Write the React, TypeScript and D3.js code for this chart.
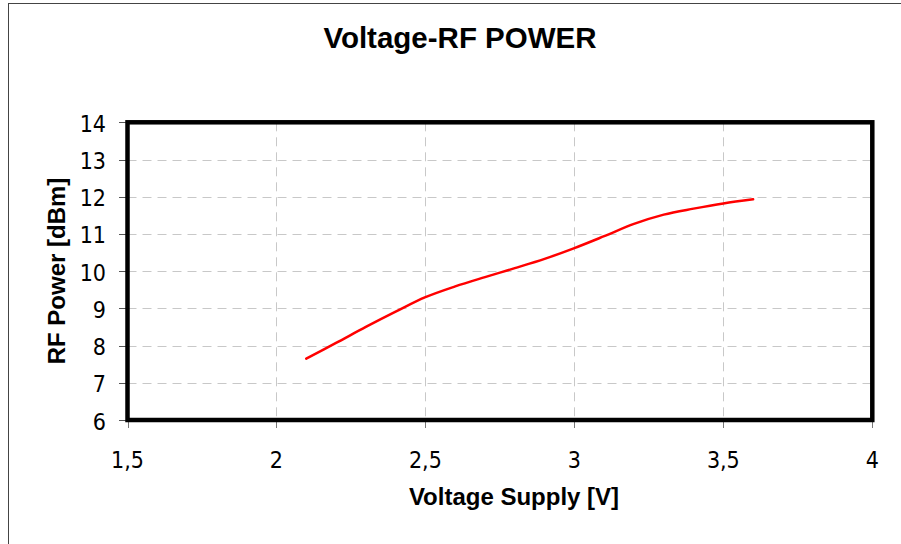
import React from "react";
import * as d3 from "d3";

// supply voltage [V]
const voltage = [2.1, 2.2, 2.3, 2.4, 2.5, 2.6, 2.7, 2.8, 2.9, 3.0, 3.1, 3.2, 3.3, 3.4, 3.5, 3.6];
// measured RF power [dBm]
const rfPower = [7.65, 8.07, 8.5, 8.91, 9.3, 9.59, 9.84, 10.08, 10.33, 10.62, 10.94, 11.27, 11.52, 11.68, 11.82, 11.93];

const xTicks = [1.5, 2, 2.5, 3, 3.5, 4];
const yTicks = [6, 7, 8, 9, 10, 11, 12, 13, 14];

const W = 901;
const H = 544;
const plot = { left: 127.5, right: 872.3, top: 122.3, bottom: 420 };

const tickFont = "'DejaVu Sans Condensed', 'DejaVu Sans', sans-serif";
const labelFont = "'Liberation Sans', Arial, sans-serif";

const fmt = (v: number) => String(v).replace(".", ",");

export default function App() {
	const x = d3.scaleLinear().domain([1.5, 4]).range([plot.left, plot.right]);
	const y = d3.scaleLinear().domain([6, 14]).range([plot.bottom, plot.top]);

	const points = voltage.map((v, i) => [v, rfPower[i]] as [number, number]);
	const line = d3
		.line<[number, number]>()
		.x((d) => x(d[0]))
		.y((d) => y(d[1]))
		.curve(d3.curveCatmullRom.alpha(0.5));

	return (
		<svg
			width={W}
			height={H}
			style={{ position: "absolute", left: 0, top: 0, display: "block" }}
		>
			<rect x={0} y={0} width={W} height={H} fill="#fff" />
			{/* outer chart frame */}
			<rect x={8.5} y={3.5} width={W + 20} height={H + 20} fill="none" stroke="#444" strokeWidth={1} />

			{/* grid */}
			<g stroke="#c8c8c8" strokeWidth={1} strokeDasharray="9,6">
				{yTicks.slice(1, -1).map((t) => (
					<line key={"gy" + t} x1={plot.left} x2={plot.right} y1={Math.round(y(t)) + 0.5} y2={Math.round(y(t)) + 0.5} />
				))}
				{xTicks.slice(1, -1).map((t) => (
					<line key={"gx" + t} x1={Math.round(x(t)) + 0.5} x2={Math.round(x(t)) + 0.5} y1={plot.top} y2={plot.bottom} />
				))}
			</g>

			{/* y ticks */}
			<g>
				{yTicks.map((t) => (
					<g key={"y" + t}>
						<line x1={119} x2={plot.left} y1={Math.round(y(t)) + 0.5} y2={Math.round(y(t)) + 0.5} stroke="#555" strokeWidth={1} />
						<text x={106} y={y(t) + 9.5} textAnchor="end" fontFamily={tickFont} fontSize={23} fill="#000">
							{fmt(t)}
						</text>
					</g>
				))}
			</g>

			{/* x ticks */}
			<g>
				{xTicks.map((t) => (
					<g key={"x" + t}>
						<line x1={Math.round(x(t)) + 0.5} x2={Math.round(x(t)) + 0.5} y1={plot.bottom} y2={428} stroke="#777" strokeWidth={1} />
						<text x={x(t)} y={468} textAnchor="middle" fontFamily={tickFont} fontSize={23} fill="#000">
							{fmt(t)}
						</text>
					</g>
				))}
			</g>

			{/* data */}
			<path d={line(points) || ""} fill="none" stroke="#ff0000" strokeWidth={2.5} strokeLinecap="round" />

			{/* plot border */}
			<rect
				x={plot.left}
				y={plot.top}
				width={plot.right - plot.left}
				height={plot.bottom - plot.top}
				fill="none"
				stroke="#000"
				strokeWidth={4.5}
			/>

			{/* titles */}
			<text x={460} y={48} textAnchor="middle" fontFamily={labelFont} fontWeight="bold" fontSize={29.5} fill="#000">
				Voltage-RF POWER
			</text>
			<text x={514} y={505} textAnchor="middle" fontFamily={labelFont} fontWeight="bold" fontSize={24} fill="#000">
				Voltage Supply [V]
			</text>
			<text
				transform={`translate(65,271) rotate(-90)`}
				textAnchor="middle"
				fontFamily={labelFont}
				fontWeight="bold"
				fontSize={24}
				fill="#000"
			>
				RF Power [dBm]
			</text>
		</svg>
	);
}
